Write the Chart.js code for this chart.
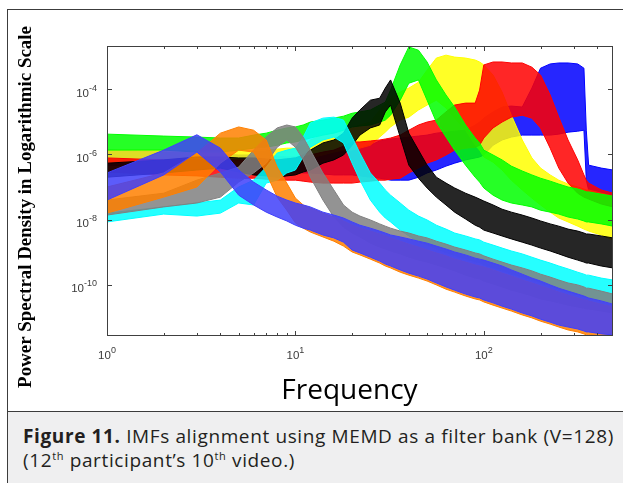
<!DOCTYPE html>
<html>
<head>
<meta charset="utf-8">
<title>IMFs alignment using MEMD</title>
<script src="https://cdn.jsdelivr.net/npm/chart.js@4.4.1/dist/chart.umd.min.js"></script>
<style>
  html, body { margin: 0; padding: 0; background: #fff; }
  body { width: 623px; height: 483px; position: relative; overflow: hidden; }
  #frame { position: absolute; left: 7px; top: 9px; width: 640px; height: 500px;
           border-left: 1px solid #3c3c3c; border-top: 1px solid #3c3c3c; }
  #chart { position: absolute; left: 8px; top: 10px; }
  #caption { position: absolute; left: 8px; top: 411px; width: 640px; height: 80px;
             background: #efeff0; border-top: 1px solid #3c3c3c;
             font-family: 'Open Sans', sans-serif; color: #231f20; }
  #caption p { margin: 0; position: absolute; left: 15px; white-space: nowrap;
               font-size: 19px; line-height: 24px; }
  #caption sup { font-size: 11px; vertical-align: 7px; line-height: 0; }
  #cap1 { top: 11.9px; }
  #cap2 { top: 35.9px; }
</style>
</head>
<body>
<div id="frame"></div>
<canvas id="chart" width="615" height="400"></canvas>
<div id="caption">
  <p id="cap1"><b>Figure 11.</b> IMFs alignment using MEMD as a filter bank (V=128)</p>
  <p id="cap2">(12<sup>th</sup> participant’s 10<sup>th</sup> video.)</p>
</div>
<script>
  'use strict';

  /* frequency bins (Hz) shared by every IMF band */
  const freq = [1, 2, 3, 4, 5, 6, 7, 8, 9, 10, 11, 12, 14, 16, 18, 20, 22, 25, 28, 30, 32, 36, 40, 45, 50,
    56, 63, 70, 80, 90, 95, 100, 112, 125, 140, 160, 180, 200, 225, 250, 280, 315, 340, 350, 360, 420, 485];

  /* upper / lower edge of each IMF bundle, as log10 of the power spectral density */
  const imf1Top = [-5.87, -5.93, -5.96, -5.99, -6.02, -6.02, -6.05, -6.05, -6.08, -6.08, -6.05, -6.02, -5.96, -5.93, -5.90, -5.87,
    -5.81, -5.72, -5.59, -5.56, -5.53, -5.50, -5.47, -5.44, -5.41, -5.35, -5.32, -5.29, -5.26, -5.10, -5.01, -4.89, -4.70, -4.55,
    -4.52, -4.55, -3.97, -3.36, -3.23, -3.20, -3.20, -3.23, -3.36, -5.26, -6.33, -6.42, -6.48];
  const imf1Bottom = [-6.33, -6.39, -6.42, -6.45, -6.48, -6.51, -6.51, -6.54, -6.54, -6.54, -6.57, -6.57, -6.60, -6.63, -6.63, -6.63,
    -6.66, -6.70, -6.73, -6.76, -6.79, -6.79, -6.79, -6.70, -6.57, -6.48, -6.36, -6.27, -6.17, -6.11, -6.08, -6.02, -5.72, -5.56,
    -5.47, -5.41, -5.41, -5.41, -5.41, -5.38, -5.32, -5.29, -5.26, -6.79, -7.09, -7.25, -7.31];

  const imf2Top = [-6.11, -6.17, -6.17, -6.17, -6.17, -6.17, -6.17, -6.17, -6.14, -6.11, -6.08, -6.02, -5.93, -5.87, -5.75, -5.62,
    -5.62, -5.59, -5.56, -5.53, -5.50, -5.41, -5.26, -5.10, -5.01, -4.95, -4.70, -4.49, -4.43, -4.43, -4.03, -3.26, -3.17, -3.17,
    -3.20, -3.20, -3.33, -3.57, -4.18, -4.86, -5.56, -6.17, -6.63, -6.79, -6.88, -7.09, -7.19];
  const imf2Bottom = [-6.54, -6.63, -6.66, -6.70, -6.73, -6.73, -6.76, -6.79, -6.79, -6.79, -6.82, -6.85, -6.88, -6.88, -6.88, -6.88,
    -6.85, -6.82, -6.79, -6.79, -6.76, -6.73, -6.57, -6.42, -6.27, -6.17, -6.02, -5.87, -5.81, -5.78, -5.72, -5.50, -5.19, -5.01,
    -4.86, -4.80, -4.89, -5.19, -5.81, -6.42, -6.88, -7.19, -7.31, -7.34, -7.37, -7.52, -7.61];

  const imf3Top = [-5.87, -5.87, -5.90, -5.90, -5.87, -5.87, -5.87, -5.84, -5.81, -5.81, -5.72, -5.56, -5.41, -5.32, -5.26, -5.19,
    -5.10, -5.01, -4.64, -4.46, -4.28, -4.09, -3.97, -3.79, -3.42, -3.05, -2.96, -3.02, -3.05, -3.11, -3.17, -3.26, -3.57, -4.09,
    -4.80, -5.56, -6.11, -6.42, -6.63, -6.79, -6.91, -7.00, -7.06, -7.09, -7.09, -7.19, -7.28];
  const imf3Bottom = [-6.24, -6.27, -6.30, -6.33, -6.33, -6.33, -6.33, -6.33, -6.33, -6.33, -6.24, -6.11, -6.02, -5.93, -5.87, -5.87,
    -5.81, -5.72, -5.47, -5.32, -5.16, -4.95, -4.86, -4.64, -4.49, -4.34, -4.58, -4.89, -5.26, -5.72, -5.87, -6.08, -6.24, -6.48,
    -6.79, -7.09, -7.34, -7.55, -7.77, -7.95, -8.07, -8.20, -8.29, -8.32, -8.35, -8.47, -8.62];

  const imf4Top = [-5.38, -5.44, -5.47, -5.50, -5.50, -5.41, -5.35, -5.26, -5.19, -5.16, -5.10, -5.01, -4.95, -4.89, -4.83, -4.74,
    -4.70, -4.64, -4.49, -4.40, -4.03, -3.26, -2.71, -2.81, -3.17, -3.72, -4.18, -4.55, -5.10, -5.50, -5.65, -5.87, -6.02, -6.17,
    -6.36, -6.51, -6.63, -6.73, -6.82, -6.91, -7.00, -7.06, -7.12, -7.15, -7.15, -7.22, -7.28];
  const imf4Bottom = [-5.87, -5.87, -5.93, -5.93, -5.87, -5.81, -5.78, -5.72, -5.65, -5.62, -5.56, -5.50, -5.41, -5.35, -5.26, -5.16,
    -5.13, -5.10, -5.01, -4.95, -4.80, -4.34, -3.82, -3.72, -4.34, -5.01, -5.47, -5.87, -6.33, -6.70, -6.85, -7.03, -7.25, -7.40,
    -7.49, -7.55, -7.61, -7.71, -7.77, -7.83, -7.92, -7.98, -8.04, -8.07, -8.07, -8.13, -8.20];

  const imf5Top = [-6.27, -6.17, -6.08, -6.08, -6.11, -6.11, -6.14, -6.17, -6.14, -6.11, -6.02, -5.87, -5.65, -5.56, -5.35, -4.89,
    -4.64, -4.34, -4.28, -3.97, -3.72, -4.43, -5.35, -5.87, -6.33, -6.70, -6.88, -7.03, -7.19, -7.31, -7.37, -7.43, -7.55, -7.68,
    -7.77, -7.86, -7.95, -8.04, -8.13, -8.20, -8.29, -8.35, -8.41, -8.44, -8.44, -8.50, -8.56];
  const imf5Bottom = [-6.70, -6.57, -6.48, -6.42, -6.54, -6.63, -6.66, -6.70, -6.66, -6.63, -6.54, -6.48, -6.27, -6.17, -6.02, -5.72,
    -5.41, -5.19, -5.10, -4.70, -4.49, -5.47, -6.33, -6.73, -7.03, -7.31, -7.55, -7.77, -7.98, -8.17, -8.23, -8.32, -8.41, -8.50,
    -8.59, -8.69, -8.78, -8.87, -8.96, -9.05, -9.15, -9.24, -9.30, -9.33, -9.33, -9.42, -9.48];

  const imf6Top = [-7.80, -7.61, -7.49, -7.40, -7.00, -6.79, -6.39, -5.96, -5.87, -5.81, -5.47, -5.04, -4.89, -4.86, -4.95, -5.47,
    -5.96, -6.57, -6.88, -7.09, -7.25, -7.49, -7.71, -7.89, -8.01, -8.17, -8.29, -8.41, -8.50, -8.59, -8.62, -8.69, -8.78, -8.87,
    -8.96, -9.05, -9.15, -9.24, -9.33, -9.42, -9.51, -9.61, -9.67, -9.70, -9.70, -9.79, -9.85];
  const imf6Bottom = [-8.07, -7.83, -7.89, -7.80, -7.49, -7.55, -6.88, -6.79, -6.57, -6.48, -6.08, -5.78, -5.56, -5.47, -5.65, -6.27,
    -6.79, -7.40, -7.77, -7.95, -8.07, -8.32, -8.50, -8.69, -8.78, -8.90, -9.02, -9.11, -9.21, -9.30, -9.33, -9.39, -9.48, -9.57,
    -9.67, -9.76, -9.85, -9.94, -10.03, -10.13, -10.22, -10.31, -10.37, -10.40, -10.40, -10.49, -10.55];

  const imf7Top = [-7.40, -7.19, -6.79, -6.57, -6.39, -5.87, -5.47, -5.19, -5.10, -5.16, -5.47, -5.87, -6.57, -7.09, -7.55, -7.77,
    -7.89, -8.01, -8.13, -8.20, -8.26, -8.35, -8.41, -8.50, -8.56, -8.66, -8.75, -8.84, -8.93, -9.02, -9.05, -9.11, -9.21, -9.30,
    -9.39, -9.48, -9.57, -9.67, -9.76, -9.85, -9.94, -10.00, -10.06, -10.10, -10.10, -10.19, -10.28];
  const imf7Bottom = [-7.86, -7.61, -7.49, -7.31, -6.85, -6.57, -6.27, -5.78, -5.56, -5.78, -6.17, -6.70, -7.40, -7.92, -8.23, -8.41,
    -8.53, -8.72, -8.84, -8.90, -8.96, -9.05, -9.15, -9.24, -9.30, -9.39, -9.48, -9.57, -9.70, -9.79, -9.82, -9.88, -9.97, -10.06,
    -10.16, -10.25, -10.34, -10.43, -10.49, -10.55, -10.62, -10.68, -10.71, -10.74, -10.74, -10.80, -10.86];

  const imf8Top = [-7.00, -6.57, -5.96, -5.35, -5.16, -5.26, -5.56, -6.39, -6.88, -7.34, -7.55, -7.64, -7.80, -7.92, -8.04, -8.17,
    -8.26, -8.35, -8.44, -8.50, -8.56, -8.66, -8.75, -8.84, -8.93, -9.02, -9.11, -9.21, -9.30, -9.39, -9.42, -9.45, -9.54, -9.64,
    -9.73, -9.85, -9.94, -10.03, -10.13, -10.22, -10.31, -10.40, -10.46, -10.46, -10.49, -10.59, -10.68];
  const imf8Bottom = [-7.80, -7.31, -7.00, -6.27, -5.87, -5.93, -6.57, -7.31, -7.71, -8.10, -8.26, -8.38, -8.53, -8.66, -8.81, -8.99,
    -9.08, -9.21, -9.33, -9.42, -9.48, -9.61, -9.70, -9.79, -9.88, -10.00, -10.13, -10.22, -10.34, -10.43, -10.46, -10.52, -10.62, -10.71,
    -10.80, -10.92, -11.01, -11.11, -11.20, -11.29, -11.38, -11.44, -11.50, -11.53, -11.53, -11.56, -11.60];

  const imf9Top = [-6.57, -5.87, -5.40, -5.81, -6.48, -6.85, -7.09, -7.28, -7.40, -7.49, -7.55, -7.61, -7.77, -7.86, -7.95, -8.07,
    -8.17, -8.26, -8.35, -8.41, -8.47, -8.53, -8.59, -8.66, -8.72, -8.81, -8.90, -8.99, -9.08, -9.18, -9.21, -9.24, -9.33, -9.42,
    -9.54, -9.67, -9.79, -9.88, -10.00, -10.10, -10.19, -10.28, -10.34, -10.37, -10.40, -10.49, -10.59];
  const imf9Bottom = [-7.40, -6.63, -5.93, -6.54, -7.25, -7.55, -7.77, -7.92, -8.04, -8.17, -8.26, -8.32, -8.47, -8.56, -8.69, -8.93,
    -9.02, -9.15, -9.27, -9.36, -9.42, -9.54, -9.64, -9.73, -9.82, -9.94, -10.06, -10.16, -10.28, -10.37, -10.40, -10.46, -10.55, -10.65,
    -10.74, -10.86, -10.95, -11.05, -11.14, -11.23, -11.29, -11.35, -11.41, -11.44, -11.44, -11.50, -11.53];

  /* axis tick labels (powers of ten) */
  const xTickExps = [0, 1, 2];
  const yTickExps = [-4, -6, -8, -10];

  /* bundles in drawing order, bottom first */
  const bands = [
    { top: imf1Top, bottom: imf1Bottom, rgb: [0, 0, 255] },
    { top: imf3Top, bottom: imf3Bottom, rgb: [255, 255, 0] },
    { top: imf2Top, bottom: imf2Bottom, rgb: [255, 0, 0] },
    { top: imf4Top, bottom: imf4Bottom, rgb: [0, 255, 0] },
    { top: imf5Top, bottom: imf5Bottom, rgb: [0, 0, 0] },
    { top: imf6Top, bottom: imf6Bottom, rgb: [0, 255, 255] },
    { top: imf7Top, bottom: imf7Bottom, rgb: [128, 128, 128] },
    { top: imf8Top, bottom: imf8Bottom, rgb: [255, 128, 0] },
    { top: imf9Top, bottom: imf9Bottom, rgb: [64, 64, 250] }
  ];

  function toPoints(logs) {
    return freq.map((f, i) => ({ x: f, y: Math.pow(10, logs[i]) }));
  }

  const datasets = [];
  bands.forEach(b => {
    const solid = 'rgb(' + b.rgb.join(',') + ')';
    datasets.push({ data: toPoints(b.bottom), borderColor: solid, fill: false });
    datasets.push({ data: toPoints(b.top), borderColor: solid, fill: '-1',
      backgroundColor: 'rgba(' + b.rgb.join(',') + ',0.85)' });
  });
  datasets.forEach((d, i) => {
    d.order = -i;
    d.borderWidth = 1;
    d.pointRadius = 0;
    d.tension = 0;
  });

  /* MATLAB style box, inward ticks, 10^n labels and axis titles */
  const axesBox = {
    id: 'axesBox',
    afterDraw(chart) {
      const { ctx, chartArea: a, scales: { x, y } } = chart;
      ctx.save();
      ctx.strokeStyle = '#404040';
      ctx.lineWidth = 1;
      ctx.strokeRect(a.left + 0.5, a.top + 0.5, a.right - a.left - 1, a.bottom - a.top - 1);

      ctx.beginPath();
      for (let d = 1; d <= 100; d *= 10) {
        for (let m = 1; m <= 9; m++) {
          const v = m * d;
          if (v > x.max) break;
          const px = Math.round(x.getPixelForValue(v)) + 0.5;
          const len = m === 1 ? 5 : 3;
          ctx.moveTo(px, a.bottom); ctx.lineTo(px, a.bottom - len);
          ctx.moveTo(px, a.top); ctx.lineTo(px, a.top + len);
        }
      }
      yTickExps.forEach(e => {
        const py = Math.round(y.getPixelForValue(Math.pow(10, e))) + 0.5;
        ctx.moveTo(a.left, py); ctx.lineTo(a.left + 5, py);
        ctx.moveTo(a.right, py); ctx.lineTo(a.right - 5, py);
      });
      ctx.stroke();

      const baseFont = '11.5px "Liberation Sans", Arial, sans-serif';
      const expFont = '9px "Liberation Sans", Arial, sans-serif';
      ctx.fillStyle = '#3a3a3a';
      ctx.textAlign = 'left';
      ctx.textBaseline = 'alphabetic';
      function power(exp, left, baseY) {
        ctx.font = baseFont;
        const wb = ctx.measureText('10').width;
        ctx.fillText('10', left, baseY);
        ctx.font = expFont;
        ctx.fillText(String(exp), left + wb, baseY - 6);
      }
      function powerWidth(exp) {
        ctx.font = baseFont;
        const wb = ctx.measureText('10').width;
        ctx.font = expFont;
        return wb + ctx.measureText(String(exp)).width;
      }
      xTickExps.forEach(e => {
        const px = x.getPixelForValue(Math.pow(10, e));
        power(e, px - powerWidth(e) / 2, 349);
      });
      yTickExps.forEach(e => {
        const py = y.getPixelForValue(Math.pow(10, e));
        power(e, 89 - powerWidth(e), py + 7.5);
      });

      ctx.fillStyle = '#000';
      ctx.textAlign = 'center';
      ctx.font = '28px "Open Sans", sans-serif';
      ctx.fillText('Frequency', 341.5, 389);

      const yTitle = 'Power Spectral Density in Logarithmic Scale';
      ctx.font = 'bold 19px "Liberation Serif", "Times New Roman", serif';
      const size = 19 * 362 / ctx.measureText(yTitle).width;
      ctx.font = 'bold ' + size.toFixed(2) + 'px "Liberation Serif", "Times New Roman", serif';
      ctx.translate(18, 197);
      ctx.rotate(-Math.PI / 2);
      ctx.textBaseline = 'middle';
      ctx.fillText(yTitle, 0, 0);
      ctx.restore();
    }
  };

  new Chart(document.getElementById('chart'), {
    type: 'line',
    data: { datasets },
    options: {
      responsive: false,
      animation: false,
      events: [],
      layout: { padding: { left: 0, right: 10, top: 36, bottom: 0 } },
      plugins: { legend: { display: false }, tooltip: { enabled: false } },
      scales: {
        x: {
          type: 'logarithmic', min: 1, max: 485,
          ticks: { display: false }, grid: { display: false }, border: { display: false },
          afterFit(s) { s.height = 74; }
        },
        y: {
          type: 'logarithmic', min: Math.pow(10, -11.565), max: Math.pow(10, -2.68),
          ticks: { display: false }, grid: { display: false }, border: { display: false },
          afterFit(s) { s.width = 99; }
        }
      }
    },
    plugins: [axesBox]
  });

  /* nudge the caption's letter spacing so line one spans x = 23..614 like the figure */
  const cap1 = document.getElementById('cap1');
  const cap2 = document.getElementById('cap2');
  const natural = cap1.getBoundingClientRect().width;
  const spacing = (591 - natural) / cap1.textContent.length;
  cap1.style.letterSpacing = spacing.toFixed(2) + 'px';
  cap2.style.letterSpacing = spacing.toFixed(2) + 'px';
</script>
</body>
</html>
